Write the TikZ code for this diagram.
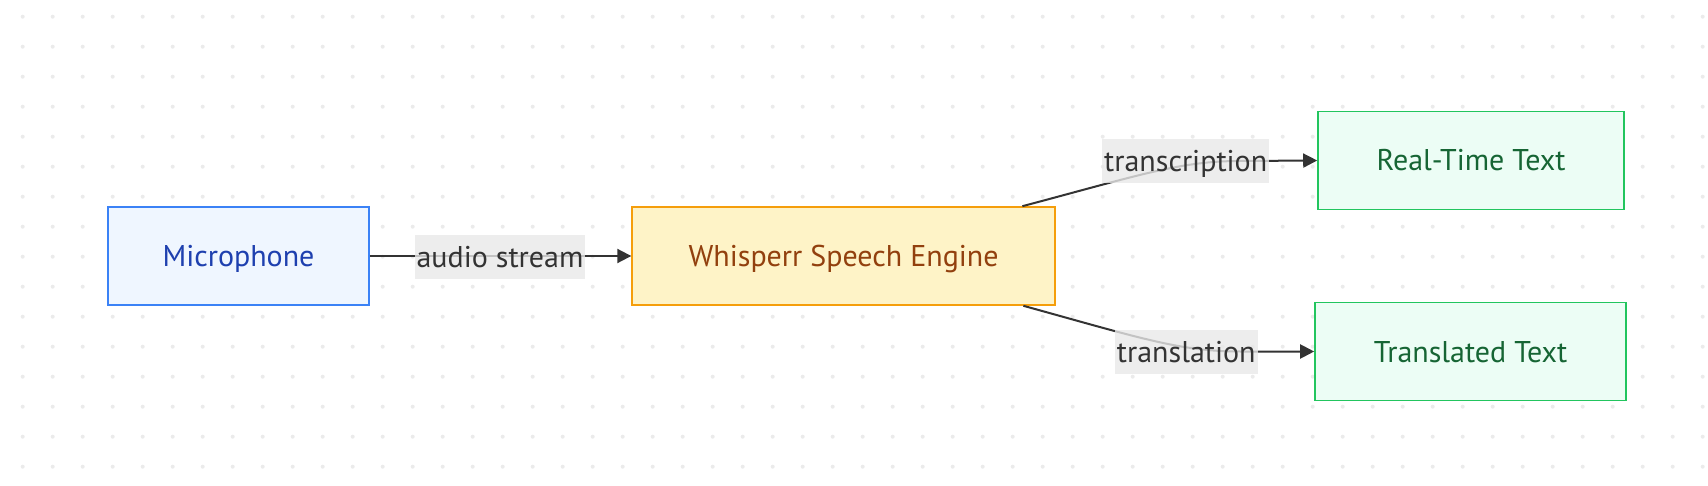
\documentclass[tikz,border=0pt]{standalone}
\usepackage{fontspec}
\setmainfont{PT Sans}
\usetikzlibrary{arrows.meta}
\definecolor{dotgray}{HTML}{EBEBEB}
\definecolor{edgegray}{HTML}{333333}
\definecolor{labelgray}{HTML}{E8E8E8}
\definecolor{micfill}{HTML}{EFF6FF}
\definecolor{micdraw}{HTML}{3B82F6}
\definecolor{mictext}{HTML}{1E40AF}
\definecolor{enginefill}{HTML}{FEF3C7}
\definecolor{enginedraw}{HTML}{F59E0B}
\definecolor{enginetext}{HTML}{92400E}
\definecolor{outfill}{HTML}{ECFDF5}
\definecolor{outdraw}{HTML}{22C55E}
\definecolor{outtext}{HTML}{166534}
\begin{document}
\begin{tikzpicture}[x=1pt,y=1pt,
	box/.style={draw,line width=1.6pt,minimum height=98pt,inner sep=0pt,text height=21pt,text depth=0pt,font=\fontsize{30}{35}\selectfont},
	flow/.style={draw=edgegray,line width=2pt,-{Triangle[length=14pt,width=14pt]}},
	edgelabel/.style={fill=labelgray,fill opacity=0.8,text opacity=1,text=edgegray,inner sep=2pt,minimum height=44pt,text height=21pt,text depth=0pt,font=\fontsize{30}{35}\selectfont}]
	\useasboundingbox (0,0) rectangle (1708,485);
	\foreach \i in {0,...,56}
		\foreach \j in {0,...,15}
			\fill[dotgray] (22.7+30*\i,468.3-30*\j) circle (2);
	\node[box,fill=micfill,draw=micdraw,text=mictext,minimum width=261pt] (mic) at (238.5,229) {Microphone};
	\node[box,fill=enginefill,draw=enginedraw,text=enginetext,minimum width=423pt] (wse) at (843.6,229) {Whisperr Speech Engine};
	\node[box,fill=outfill,draw=outdraw,text=outtext,minimum width=306pt] (rtt) at (1471,324.5) {Real-Time Text};
	\node[box,fill=outfill,draw=outdraw,text=outtext,minimum width=311pt] (tt) at (1470.5,133.5) {Translated Text};
	\draw[flow] (mic) -- (wse);
	\draw[flow] ([xshift=-33.5pt]wse.north east) .. controls (1140,310) and (1180,324) .. (1240,324) -- (rtt.west);
	\draw[flow] ([xshift=-32.5pt]wse.south east) .. controls (1140,147) and (1180,133.5) .. (1240,133.5) -- (tt.west);
	\node[edgelabel] (audio) at (500,228) {audio stream};
	\node[edgelabel] (transcr) at (1185.7,323.7) {transcription};
	\node[edgelabel] (transl) at (1186.3,133.3) {translation};
\end{tikzpicture}
\end{document}
